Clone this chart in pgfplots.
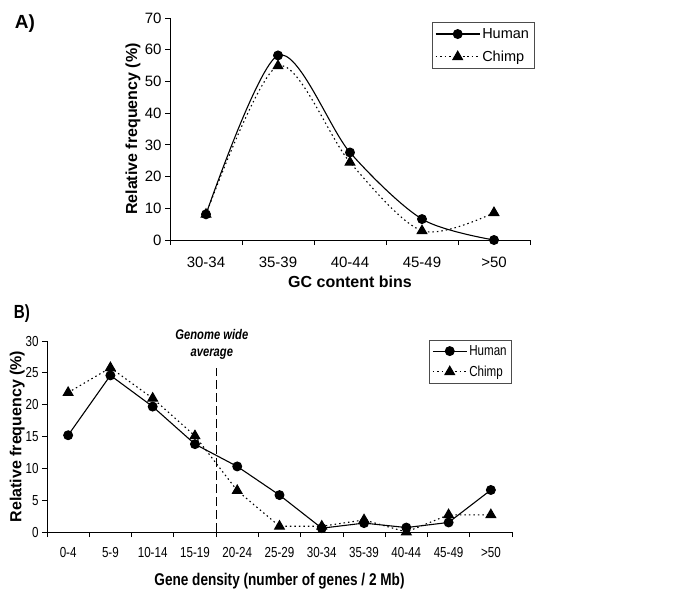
\documentclass[border=0pt]{standalone}
\usepackage{fontspec}
\setmainfont{Liberation Sans}
\newfontfamily\Bfont{Liberation Sans}[FakeStretch=0.8]
\usepackage{pgfplots}
\pgfplotsset{compat=1.18}
\pgfplotsset{
  common/.style={
    scale only axis,
    axis x line*=bottom, axis y line*=left,
    tick align=outside, major tick length=5pt,
    x tick label as interval,
    tick style={black, line width=0.8pt},
    axis line style={black, line width=0.8pt},
    /pgf/number format/assume math mode=true,
    legend cell align=left,
    legend style={draw=black!70, line width=0.6pt, inner xsep=3pt, inner ysep=4pt, row sep=7pt},
    clip=false,
  },
  hum/.style={black, line width=1.1pt, mark=*, mark size=4.4pt, mark options={solid, fill=black}},
  chi/.style={black, line width=1.1pt, dash pattern=on 1.5pt off 3pt, mark=triangle*, mark size=5.5pt, mark options={solid, fill=black}},
}
\begin{document}
\begin{tikzpicture}
\useasboundingbox (0pt,0pt) rectangle (678pt,-598pt);
\node[font=\fontsize{19}{22}\selectfont\bfseries] at (25pt,-24pt) {A)};
\node[font=\Bfont\fontsize{19}{22}\selectfont\bfseries] at (22pt,-314pt) {B)};
% Panel A
\begin{axis}[common,
  at={(170pt,-240pt)}, anchor=south west,
  width=360pt, height=222pt,
  xmin=-0.5, xmax=4.5, ymin=0, ymax=70,
  xtick={-0.5,0.5,...,4.5},
  xticklabels={30-34,35-39,40-44,45-49,>50},
  ytick={0,10,...,70},
  tick label style={font=\fontsize{15}{17}\selectfont},
  xticklabel style={yshift=-8pt},
  xlabel={GC content bins},
  ylabel={Relative frequency (\%)},
  xlabel style={at={(axis description cs:0.5,-0.19)}, anchor=center, font=\fontsize{16}{19}\selectfont\bfseries},
  ylabel style={at={(axis description cs:-0.103,0.5)}, anchor=center, font=\fontsize{16}{19}\selectfont\bfseries},
  legend style={at={(axis description cs:1.012,0.982)}, anchor=north east, font=\fontsize{14.5}{16}\selectfont},
  legend image code/.code={\draw[mark repeat=2,mark phase=2,#1] plot coordinates {(0pt,0pt) (22pt,0pt) (44pt,0pt)};},
]
\addplot[hum, smooth] coordinates {(0,8.1) (1,58.2) (2,27.6) (3,6.6) (4,0)};
\addlegendentry{Human}
\addplot[chi, smooth] coordinates {(0,8.1) (1,54.9) (2,24.5) (3,2.9) (4,8.6)};
\addlegendentry{Chimp}
\end{axis}
% Panel B
\begin{axis}[common,
  at={(47pt,-532pt)}, anchor=south west,
  width=465pt, height=191pt,
  xmin=-0.5, xmax=10.5, ymin=0, ymax=30,
  xtick={-0.5,0.5,...,10.5},
  xticklabels={0-4,5-9,10-14,15-19,20-24,25-29,30-34,35-39,40-44,45-49,>50},
  ytick={0,5,...,30},
  tick label style={font=\Bfont\fontsize{14.5}{16}\selectfont},
  xticklabel style={yshift=-7pt},
  xlabel={Gene density (number of genes / 2 Mb)},
  ylabel={Relative frequency (\%)},
  xlabel style={at={(axis description cs:0.5,-0.257)}, anchor=center, font=\Bfont\fontsize{17}{20}\selectfont\bfseries},
  ylabel style={at={(axis description cs:-0.064,0.5)}, anchor=center, font=\fontsize{16}{19}\selectfont\bfseries},
  legend style={at={(axis description cs:1.0,1.005)}, anchor=north east, font=\Bfont\fontsize{14.5}{16}\selectfont, row sep=5pt, inner ysep=3pt},
  legend image code/.code={\draw[mark repeat=2,mark phase=2,#1] plot coordinates {(0pt,0pt) (17pt,0pt) (34pt,0pt)};},
]
\addplot[hum] coordinates {(0,15.2) (1,24.6) (2,19.7) (3,13.8) (4,10.3) (5,5.8) (6,0.6) (7,1.4) (8,0.7) (9,1.5) (10,6.6)};
\addlegendentry{Human}
\addplot[chi] coordinates {(0,21.9) (1,25.8) (2,21.0) (3,15.1) (4,6.5) (5,0.9) (6,0.9) (7,1.9) (8,0.0) (9,2.7) (10,2.7)};
\addlegendentry{Chimp}
\addplot[black, line width=1.1pt, dash pattern=on 9pt off 4pt, forget plot] coordinates {(3.5,0) (3.5,25.8)};
\node[font=\Bfont\fontsize{14}{17}\selectfont\bfseries\itshape, align=center] at (axis cs:3.4,29.5) {Genome wide\\average};
\end{axis}
\end{tikzpicture}
\end{document}
